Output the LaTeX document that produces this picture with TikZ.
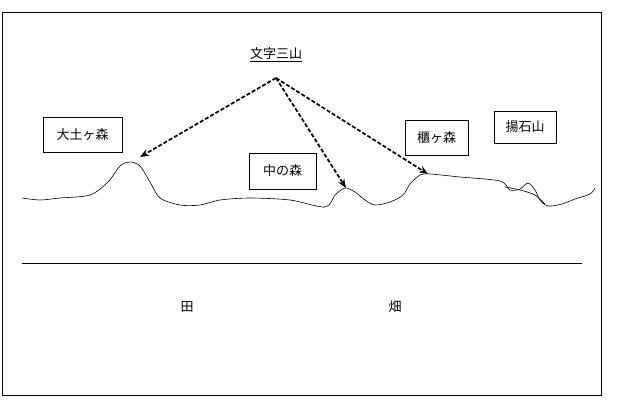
\documentclass[tikz,border=0pt]{standalone}
\usepackage{fontspec}
\setmainfont{Noto Sans CJK JP}
\usetikzlibrary{arrows.meta}
\begin{document}
\begin{tikzpicture}[x=1pt,y=-1pt,
  lbl/.style={draw,line width=0.6pt,inner sep=0pt,font=\fontsize{13}{15}\selectfont},
  arr/.style={line width=1.7pt,dash pattern=on 4pt off 2pt,-{Stealth[length=9pt,width=7pt]}}]
\useasboundingbox (0,0) rectangle (627,416);
\draw[line width=0.6pt] (2,12) rectangle (601,395);
\node[lbl,minimum width=79pt,minimum height=35pt] (o) at (82.5,134.5) {大土ヶ森};
\node[lbl,minimum width=67pt,minimum height=36pt] (n) at (282.5,171) {中の森};
\node[lbl,minimum width=63pt,minimum height=35pt] (h) at (436.5,137.5) {櫃ヶ森};
\node[lbl,minimum width=62pt,minimum height=32pt] (a) at (525,127) {揚石山};
\node[font=\fontsize{13}{15}\selectfont] (t) at (276,55) {\underline{文字三山}};
\coordinate (s) at (276,78);
\coordinate (p1) at (140,157);
\coordinate (p2) at (346,188);
\coordinate (p3) at (428,174);
\draw[arr] (s) -- (p1);
\draw[arr] (s) -- (p2);
\draw[arr] (s) -- (p3);
\draw[line width=0.6pt] plot[smooth,tension=0.5] coordinates {(22,198)(40,200)(60,198)(90,195)(108,182)(120,166)(130,162)(140,166)(150,182)(160,198)(180,205)(200,205)(220,200)(250,198)(290,200)(325,207)(335,195)(345,188)(355,192)(365,200)(375,205)(390,202)(403,195)(410,184)(420,175)(430,174)(460,177)(500,181)(510,190)(520,189)(528,183)(535,190)(540,200)(548,206)(562,204)(575,199)(590,194)(595,188)};
\draw[line width=0.6pt] plot[smooth] coordinates {(505,187)(520,190)(535,195)(545,204)};
\draw[line width=0.6pt] (22,263) -- (582,263);
\node[font=\fontsize{13}{15}\selectfont] (ta) at (187,307) {田};
\node[font=\fontsize{13}{15}\selectfont] (ha) at (395,307) {畑};
\end{tikzpicture}
\end{document}
